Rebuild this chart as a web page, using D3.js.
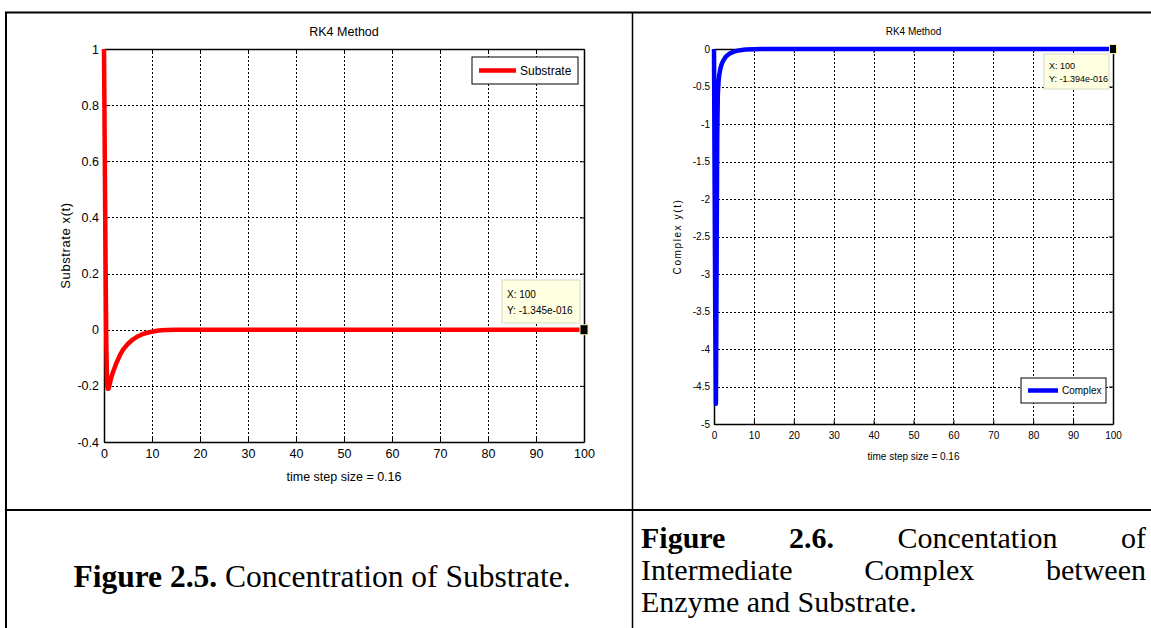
<!DOCTYPE html>
<html><head><meta charset="utf-8">
<script src="https://cdn.jsdelivr.net/npm/d3@7"></script>
<style>
html,body{margin:0;padding:0;background:#fff;}
#wrap{position:relative;width:1151px;height:628px;overflow:hidden;}
svg{position:absolute;left:0;top:0;}
.cap{position:absolute;font-family:"Liberation Serif","Times New Roman",serif;font-size:30px;color:#000;}
.jl{text-align:justify;text-align-last:justify;white-space:nowrap;}
</style></head>
<body><div id="wrap"></div>
<script>
// ---- data ----
const timeSub = [0,0.16,0.32,0.48,0.64,0.8,0.96,1.12,1.3,1.6,2,2.5,3,3.5,4,5,6,7,8,9,10,11,12,13,15,20,30,40,50,60,70,80,90,100];
const substrate = [1,0.62,0.25,-0.05,-0.19,-0.21,-0.21,-0.2,-0.185,-0.165,-0.145,-0.122,-0.103,-0.085,-0.07,-0.05,-0.035,-0.024,-0.016,-0.011,-0.007,-0.004,-0.002,-0.001,0,0,0,0,0,0,0,0,0,-1.345e-16];
const timeCx = [0,0.16,0.32,0.48,0.64,0.8,0.96,1.12,1.3,1.6,2,2.5,3,4,5,6,7,8,10,12,15,20,30,40,50,60,70,80,90,100];
const complex = [0,-1.8,-3.6,-4.73,-3.0,-1.2,-0.6,-0.45,-0.35,-0.26,-0.19,-0.14,-0.1,-0.058,-0.035,-0.022,-0.013,-0.008,-0.003,-0.001,0,0,0,0,0,0,0,0,0,-1.394e-16];
const xTicks = [0,10,20,30,40,50,60,70,80,90,100];
const yTicksSub = [-0.4,-0.2,0,0.2,0.4,0.6,0.8,1];
const yTicksCx = [-5,-4.5,-4,-3.5,-3,-2.5,-2,-1.5,-1,-0.5,0];

const W=1151,H=628;
const wrap=d3.select("#wrap");
const svg=wrap.append("svg").attr("width",W).attr("height",H);

// table borders
const tb=svg.append("g").attr("stroke","#000").attr("fill","none");
tb.append("line").attr("x1",5).attr("x2",W).attr("y1",12.5).attr("y2",12.5).attr("stroke-width",2);
tb.append("line").attr("x1",6).attr("x2",6).attr("y1",12).attr("y2",H).attr("stroke-width",2);
tb.append("line").attr("x1",632.5).attr("x2",632.5).attr("y1",12).attr("y2",H).attr("stroke-width",1.5);
tb.append("line").attr("x1",5).attr("x2",W).attr("y1",510).attr("y2",510).attr("stroke-width",2);

function panel(o){
  const g=svg.append("g").style("font-family",o.font);
  const x=d3.scaleLinear().domain([0,100]).range([o.x0,o.x1]);
  const y=d3.scaleLinear().domain(o.ydom).range([o.y1,o.y0]);
  // grid
  g.append("g").attr("transform",`translate(0,${o.y1})`)
    .call(d3.axisBottom(x).tickValues(xTicks.slice(1,-1)).tickSize(-(o.y1-o.y0)).tickFormat(""))
    .call(s=>{s.select(".domain").remove();s.selectAll("line").attr("stroke","#000").attr("stroke-dasharray","2,2").attr("shape-rendering","crispEdges");});
  g.append("g").attr("transform",`translate(${o.x0},0)`)
    .call(d3.axisLeft(y).tickValues(o.yticks.slice(1,-1)).tickSize(-(o.x1-o.x0)).tickFormat(""))
    .call(s=>{s.select(".domain").remove();s.selectAll("line").attr("stroke","#000").attr("stroke-dasharray","2,2").attr("shape-rendering","crispEdges");});
  // axes
  const ax=[
    [d3.axisBottom(x).tickValues(xTicks).tickFormat(d=>d),`translate(0,${o.y1})`],
    [d3.axisTop(x).tickValues(xTicks).tickFormat(""),`translate(0,${o.y0})`],
    [d3.axisLeft(y).tickValues(o.yticks).tickFormat(d=>String(d)),`translate(${o.x0},0)`],
    [d3.axisRight(y).tickValues(o.yticks).tickFormat(""),`translate(${o.x1},0)`]
  ];
  ax.forEach(([a,t],i)=>{
    const s=g.append("g").attr("transform",t).call(a.tickSizeInner(-4).tickSizeOuter(0).tickPadding(i===0?o.xpad:o.ypad));
    s.select(".domain").attr("stroke","#000").attr("stroke-width",1.5);
    s.selectAll(".tick line").attr("stroke","#000");
    s.selectAll("text").attr("fill","#000").style("font-size",o.fs+"px").style("font-family",o.font);
  });
  // title & labels
  g.append("text").attr("x",(o.x0+o.x1)/2).attr("y",o.titleY).attr("text-anchor","middle").style("font-size",o.fs+"px").text("RK4 Method");
  g.append("text").attr("x",(o.x0+o.x1)/2).attr("y",o.xlabY).attr("text-anchor","middle").style("font-size",o.fs+"px").text("time step size = 0.16");
  g.append("text").attr("transform",`translate(${o.ylabX},${(o.y0+o.y1)/2}) rotate(-90)`).attr("text-anchor","middle")
    .style("font-size",o.yfs+"px").style("letter-spacing",o.ls+"px").text(o.ylab);
  // line
  const line=d3.line().x(d=>x(d[0])).y(d=>y(d[1]));
  g.append("path").datum(o.t.map((t,i)=>[t,o.v[i]])).attr("d",line).attr("fill","none").attr("stroke",o.color)
    .attr("stroke-width",o.lw).attr("stroke-linejoin","round");
  // legend
  const L=o.leg;
  g.append("rect").attr("x",L.x).attr("y",L.y).attr("width",L.w).attr("height",L.h).attr("fill","#fff").attr("stroke","#000").attr("stroke-width",1);
  g.append("line").attr("x1",L.x+7).attr("x2",L.x+7+L.ll).attr("y1",L.y+L.h/2).attr("y2",L.y+L.h/2).attr("stroke",o.color).attr("stroke-width",o.lw);
  g.append("text").attr("x",L.x+11+L.ll).attr("y",L.y+L.h/2).attr("dy","0.35em").style("font-size",L.fs+"px").text(o.name);
  // datatip
  const D=o.tip;
  const lastX=x(o.t[o.t.length-1]), lastY=y(o.v[o.v.length-1]);
  g.append("rect").attr("x",D.x).attr("y",D.y).attr("width",D.w).attr("height",D.h).attr("fill","#ffffe1").attr("stroke","#d8d8c0").attr("stroke-width",1);
  g.append("text").attr("x",D.x+5).attr("y",D.y+D.h*0.33).attr("dy","0.35em").style("font-size",D.fs+"px").text("X: 100");
  g.append("text").attr("x",D.x+5).attr("y",D.y+D.h*0.71).attr("dy","0.35em").style("font-size",D.fs+"px").text(D.ylab);
  g.append("rect").attr("x",lastX-D.mw/2).attr("y",lastY-D.mh/2).attr("width",D.mw).attr("height",D.mh).attr("fill","#000").attr("stroke","#f5f0b0").attr("stroke-width",1);
}

panel({x0:104,x1:584,y0:49,y1:442,ydom:[-0.4,1],yticks:yTicksSub,font:"'Liberation Sans',Arial,sans-serif",fs:12.5,yfs:13,xpad:7,ypad:5,
  titleY:36,xlabY:481,ylabX:70,ylab:"Substrate x(t)",ls:0.6,t:timeSub,v:substrate,color:"#ff0000",lw:4.5,name:"Substrate",
  leg:{x:472,y:57,w:106,h:27,ll:37,fs:12},
  tip:{x:502,y:280,w:78,h:43,fs:10,ylab:"Y: -1.345e-016",mw:8,mh:10}});

panel({x0:714,x1:1113,y0:49,y1:424,ydom:[-5,0],yticks:yTicksCx,font:"'Liberation Sans',Arial,sans-serif",fs:10,yfs:10,xpad:8,ypad:4,
  titleY:35,xlabY:460,ylabX:681,ylab:"Complex y(t)",ls:1.6,t:timeCx,v:complex,color:"#0000ff",lw:4.5,name:"Complex",
  leg:{x:1021,y:378,w:85,h:25,ll:30,fs:10},
  tip:{x:1044,y:54,w:65,h:35,fs:9,ylab:"Y: -1.394e-016",mw:7,mh:9}});

// captions
wrap.append("div").attr("class","cap").style("left","6px").style("width","632px").style("text-align","center").style("top","560px")
  .style("line-height","34px").style("font-size","31.5px")
  .html("<b>Figure 2.5.</b> Concentration of Substrate.");
const rc=wrap.append("div").attr("class","cap").style("left","641px").style("top","522px").style("width","505px").style("line-height","32px");
rc.append("div").attr("class","jl").html("<b>Figure</b> <b>2.6.</b> Concentation of");
rc.append("div").attr("class","jl").text("Intermediate Complex between");
rc.append("div").text("Enzyme and Substrate.");
</script></body></html>
